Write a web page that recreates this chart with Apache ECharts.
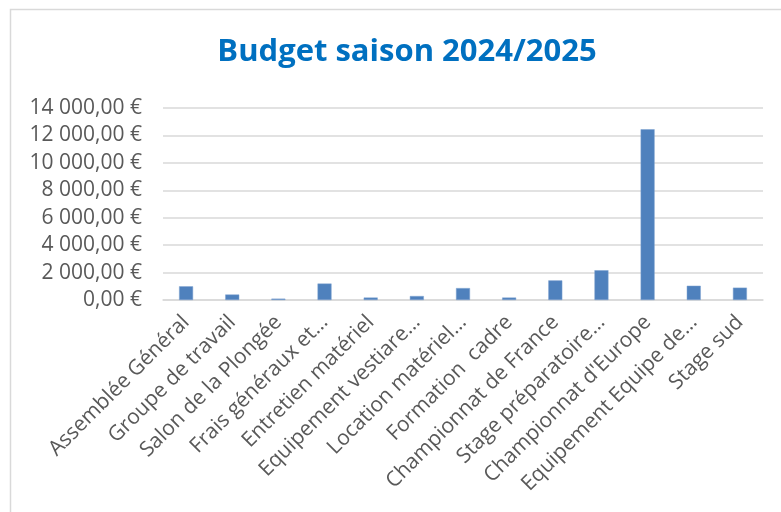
<!DOCTYPE html>
<html>
<head>
<meta charset="utf-8">
<script src="https://cdn.jsdelivr.net/npm/echarts@6/dist/echarts.min.js"></script>
<style>
html,body{margin:0;padding:0;background:#fff;}
#c{width:781px;height:512px;}
</style>
</head>
<body>
<div id="c"></div>
<script>
const categories = [
  "Assemblée Général",
  "Groupe de travail",
  "Salon de la Plongée",
  "Frais généraux et…",
  "Entretien matériel",
  "Equipement vestiare…",
  "Location matériel…",
  "Formation  cadre",
  "Championnat de France",
  "Stage préparatoire…",
  "Championnat d'Europe",
  "Equipement Equipe de…",
  "Stage sud"
];
const budget = [1000, 400, 100, 1200, 180, 290, 870, 180, 1430, 2170, 12450, 1040, 900];
const yTicks = { min: 0, max: 14000, interval: 2000 };
const titleText = "Budget saison 2024/2025";

const chart = echarts.init(document.getElementById('c'), null, { renderer: 'canvas' });
const font = "Open Sans";
chart.setOption({
  animation: false,
  backgroundColor: '#ffffff',
  title: {
    text: titleText,
    left: 402,
    textAlign: 'center',
    top: 32,
    textStyle: { color: '#0070C0', fontSize: 31, fontWeight: 'bold', fontFamily: font }
  },
  graphic: [{
    type: 'rect',
    shape: { x: 10.5, y: 9.5, width: 800, height: 600 },
    style: { fill: 'none', stroke: '#d9d9d9', lineWidth: 1.5 },
    silent: true
  }],
  grid: { left: 163, right: 18, top: 108, bottom: 212, containLabel: false },
  xAxis: {
    type: 'category',
    data: categories,
    axisLine: { lineStyle: { color: '#d9d9d9', width: 1.5 } },
    axisTick: { show: false },
    axisLabel: {
      rotate: 45, interval: 0, color: '#595959', fontSize: 21, fontFamily: font, margin: 19
    }
  },
  yAxis: {
    type: 'value',
    min: yTicks.min, max: yTicks.max, interval: yTicks.interval,
    axisLine: { show: false },
    axisTick: { show: false },
    splitLine: { lineStyle: { color: '#d9d9d9', width: 1.5 } },
    axisLabel: {
      color: '#595959', fontSize: 21, fontFamily: font, margin: 21,
      formatter: function (v) {
        const s = Math.round(v).toString().replace(/\B(?=(\d{3})+(?!\d))/g, ' ');
        return s + ',00 €';
      }
    }
  },
  series: [{
    type: 'bar',
    data: budget,
    barWidth: 14,
    itemStyle: { color: '#4F81BD', borderColor: '#7FA3D0', borderWidth: 0.5 }
  }]
});
</script>
</body>
</html>
